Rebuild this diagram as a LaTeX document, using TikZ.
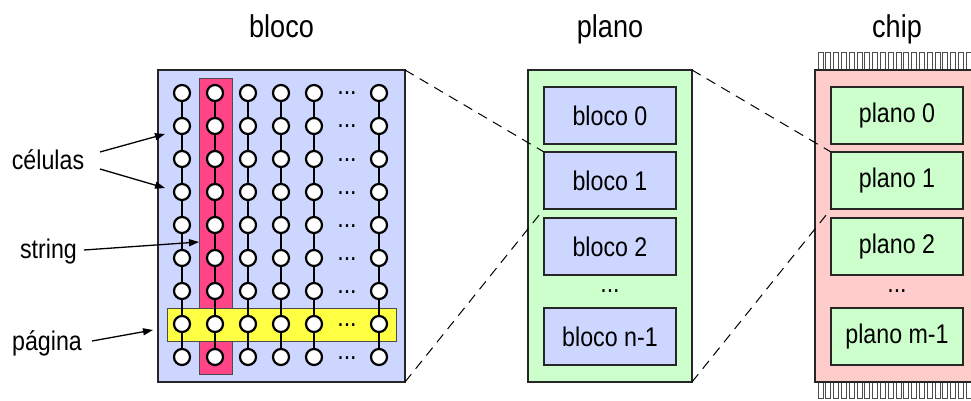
\documentclass[tikz,border=0pt]{standalone}
\usepackage{fontspec}
\setmainfont[FakeStretch=0.86]{Liberation Sans}
\usetikzlibrary{arrows.meta}
\definecolor{blueF}{HTML}{CCD6FF}
\definecolor{greenF}{HTML}{CCFFCC}
\definecolor{pinkF}{HTML}{FFCCCC}
\definecolor{redF}{HTML}{FF4488}
\definecolor{yellowF}{HTML}{FFFF44}
\newcommand{\boxfont}{\fontsize{27}{32}\selectfont}
\newcommand{\titlefont}{\fontsize{31.5}{36}\selectfont}
\begin{document}
\begin{tikzpicture}[x=1pt,y=-1pt,
  outerbox/.style={draw=black!85, line width=1.8pt, inner sep=0pt, outer sep=0pt, minimum width=164pt, minimum height=312pt},
  innerbox/.style={draw=black!85, line width=1.2pt, fill=blueF, inner sep=0pt, outer sep=0pt, minimum width=132pt, minimum height=57pt, font=\boxfont},
  cell/.style={circle, draw=black, line width=2.2pt, fill=white, minimum size=16pt, inner sep=0pt, outer sep=0pt},
  conn/.style={line width=1.3pt},
  zoomline/.style={dash pattern=on 10pt off 7pt, line width=1pt},
  lbl/.style={font=\boxfont, inner sep=0pt, anchor=base},
  ttl/.style={font=\titlefont, inner sep=0pt, anchor=base},
  dotsty/.style={font=\boxfont, inner sep=0pt, anchor=base},
  arr/.style={-{Triangle[length=10pt,width=7pt]}, line width=1.3pt},
  pin/.style={draw=black!70, line width=0.9pt, fill=white}
]
\clip (0,0) rectangle (971,401);

% titles
\node[ttl] (tb) at (281.5,38) {bloco};
\node[ttl] (tp) at (610,38) {plano};
\node[ttl] (tc) at (897,38) {chip};

% ---------- bloco ----------
\node[outerbox, fill=blueF, minimum width=247pt] (bloco) at (281.5,226) {};
\node[draw=black!70, line width=0.8pt, fill=redF, minimum width=33pt, minimum height=296pt, inner sep=0pt] (str) at (215.5,226) {};
\node[draw=black!70, line width=0.8pt, fill=yellowF, minimum width=229pt, minimum height=33pt, inner sep=0pt] (pag) at (281.5,324.5) {};

\foreach \c/\x in {1/182,2/215,3/248,4/281,5/314,6/379}{
  \foreach \r in {1,...,9}{
    \node[cell] (c-\c-\r) at (\x,{93+33*(\r-1)}) {};
  }
  \foreach \r [evaluate=\r as \n using int(\r+1)] in {1,...,8}{
    \draw[conn] (c-\c-\r) -- (c-\c-\n);
  }
}
\foreach \r in {1,...,9}{
  \node[dotsty] (d-\r) at (347,{95+33*(\r-1)}) {...};
}

% labels and arrows
\node[lbl] (cel) at (48,169) {células};
\node[lbl] (strl) at (48.5,258) {string};
\node[lbl] (pagl) at (47,350) {página};
\coordinate (celA) at (100,152);
\coordinate (celB) at (100,169);
\coordinate (strA) at (84,250);
\coordinate (pagA) at (92,341);
\coordinate (celT1) at (165,134);
\coordinate (celT2) at (165,188);
\coordinate (strT) at (199,242);
\coordinate (pagT) at (153,330);
\draw[arr] (celA) -- (celT1);
\draw[arr] (celB) -- (celT2);
\draw[arr] (strA) -- (strT);
\draw[arr] (pagA) -- (pagT);

% ---------- plano ----------
\node[outerbox, fill=greenF] (plano) at (610,226) {};
\node[innerbox] (b0) at (610,115.5) {bloco 0};
\node[innerbox] (b1) at (610,180.5) {bloco 1};
\node[innerbox] (b2) at (610,246.5) {bloco 2};
\node[dotsty] (bd) at (610,292) {...};
\node[innerbox] (bn) at (610,336.5) {bloco n-1};

% ---------- chip ----------
\foreach \i in {0,...,20}{
  \draw[pin] ({818+7.8*\i},70) -- ++(0,-18) -- ++(5,0) -- ++(0,18);
  \draw[pin] ({818+7.8*\i},382) -- ++(0,16) -- ++(5,0) -- ++(0,-16);
}
\node[outerbox, fill=pinkF] (chip) at (897,226) {};
\node[innerbox, fill=greenF] (p0) at (897,115.5) {plano 0};
\node[innerbox, fill=greenF] (p1) at (897,180.5) {plano 1};
\node[innerbox, fill=greenF] (p2) at (897,246.5) {plano 2};
\node[dotsty] (pd) at (897,292) {...};
\node[innerbox, fill=greenF] (pm) at (897,336.5) {plano m-1};

% zoom lines
\draw[zoomline] (bloco.north east) -- (b1.north west);
\draw[zoomline] (bloco.south east) -- (b1.south west);
\draw[zoomline] (plano.north east) -- (p1.north west);
\draw[zoomline] (plano.south east) -- (p1.south west);
\end{tikzpicture}
\end{document}
